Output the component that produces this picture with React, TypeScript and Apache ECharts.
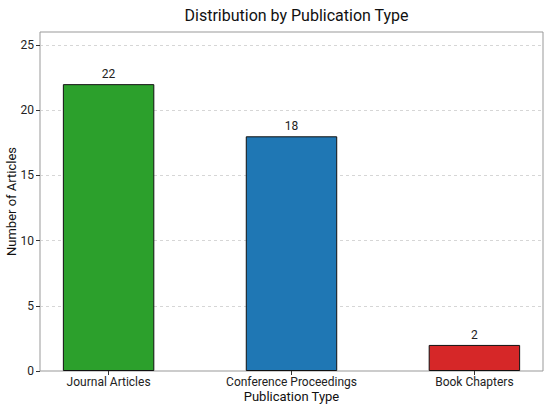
import React, { useEffect, useRef } from "react";
import * as echarts from "echarts";

const categories = ["Journal Articles", "Conference Proceedings", "Book Chapters"];
const counts = [22, 18, 2];
const barColors = ["#2ca02c", "#1f77b4", "#d62728"];
const yTicks = [0, 5, 10, 15, 20, 25];

const FONT = "Roboto, 'DejaVu Sans', sans-serif";

export default function App() {
  const ref = useRef<HTMLDivElement>(null);
  useEffect(() => {
    if (!ref.current) return;
    const chart = echarts.init(ref.current, null, { renderer: "svg" });
    const gridLeft = 40, gridRight = 7;
    const plotW = 550 - gridLeft - gridRight;
    const xMin = -0.375, xMax = 2.375;
    const barW = (0.5 * plotW) / (xMax - xMin);
    chart.setOption({
      animation: false,
      textStyle: { fontFamily: FONT },
      title: {
        text: "Distribution by Publication Type",
        left: gridLeft + plotW / 2,
        textAlign: "center",
        top: 2,
        textStyle: { fontFamily: FONT, fontSize: 16, fontWeight: "normal", color: "#111" },
      },
      grid: {
        left: gridLeft,
        right: gridRight,
        top: 32,
        bottom: 39,
        show: true,
        borderColor: "#999",
        borderWidth: 1,
        containLabel: false,
        outerBoundsMode: "none",
      },
      xAxis: {
        type: "value",
        min: xMin,
        max: xMax,
        name: "Publication Type",
        nameLocation: "middle",
        nameGap: 19,
        nameMoveOverlap: false,
        nameTextStyle: { fontFamily: FONT, fontSize: 13, color: "#111" },
        axisLine: { show: false, onZero: false },
        splitLine: { show: false },
        axisTick: { show: true, customValues: [0, 1, 2], length: 4, lineStyle: { color: "#333" } },
        axisLabel: {
          customValues: [0, 1, 2],
          formatter: (v: number) => categories[Math.round(v)] ?? "",
          fontFamily: FONT,
          fontSize: 12,
          color: "#222",
          margin: 5,
        },
      },
      yAxis: {
        type: "value",
        min: 0,
        max: 26,
        interval: 5,
        name: "Number of Articles",
        nameLocation: "middle",
        nameGap: 22,
        nameMoveOverlap: false,
        nameTextStyle: { fontFamily: FONT, fontSize: 13, color: "#111" },
        axisLine: { show: false, onZero: false },
        axisTick: { show: true, customValues: yTicks, length: 4, lineStyle: { color: "#333" } },
        axisLabel: {
          customValues: yTicks,
          fontFamily: FONT,
          fontSize: 12,
          color: "#222",
          margin: 6,
        },
        splitLine: { show: true, lineStyle: { color: "#ccc", type: [3, 3], width: 0.8 } },
      },
      series: [
        {
          type: "bar",
          barWidth: barW,
          data: counts.map((c, i) => ({
            value: [i, c],
            itemStyle: { color: barColors[i], borderColor: "#111", borderWidth: 1 },
          })),
          label: {
            show: true,
            position: "top",
            distance: 4,
            formatter: (p: any) => String(p.value[1]),
            fontFamily: FONT,
            fontSize: 12,
            color: "#222",
          },
        },
      ],
    });
    return () => chart.dispose();
  }, []);
  return <div ref={ref} style={{ width: 550, height: 410, position: "absolute", left: 0, top: 0 }} />;
}
